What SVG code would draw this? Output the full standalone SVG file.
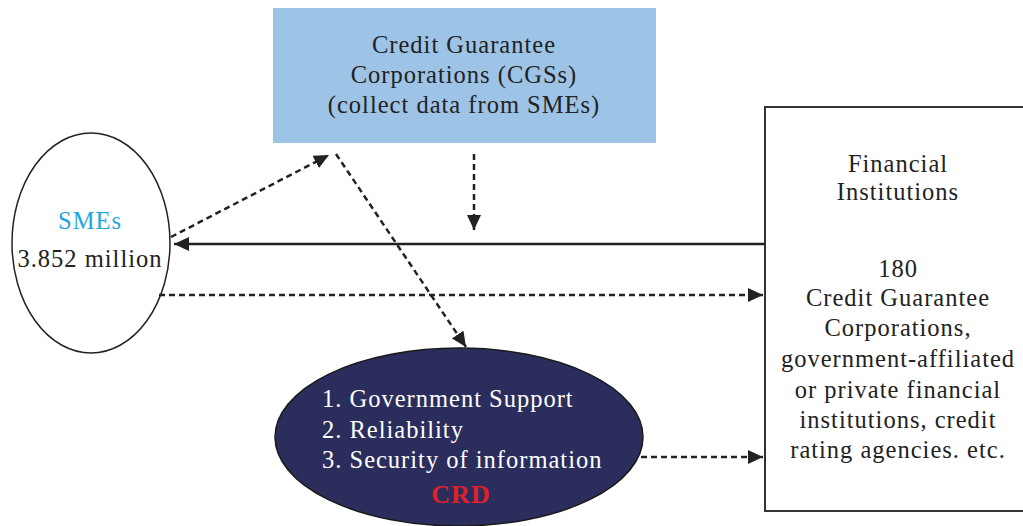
<svg xmlns="http://www.w3.org/2000/svg" width="1023" height="526" viewBox="0 0 1023 526">
  <style>
    .t { font-family: "Liberation Serif", "Times New Roman", serif; font-size: 24.5px; fill: #222; letter-spacing: 1px; }
    .c { text-anchor: middle; }
    .w { fill: #ffffff; }
    .dash { fill: none; stroke: #222; stroke-width: 2.5; stroke-dasharray: 6 4; }
    .solid { fill: none; stroke: #222; stroke-width: 2.5; }
  </style>
  <defs>
    <marker id="arrow" markerUnits="userSpaceOnUse" markerWidth="16" markerHeight="14" refX="15" refY="7" orient="auto">
      <path d="M0,0 L15,7 L0,14 z" fill="#222"/>
    </marker>
  </defs>
  <rect width="1023" height="526" fill="#ffffff"/>

  <g id="cgs">
    <rect x="273" y="8" width="383" height="135" fill="#9dc3e6"/>
    <text class="t c" x="464" y="53">Credit Guarantee</text>
    <text class="t c" x="464" y="83">Corporations (CGSs)</text>
    <text class="t c" x="464" y="113">(collect data from SMEs)</text>
  </g>

  <g id="smes">
    <ellipse cx="91" cy="243" rx="79" ry="110" fill="#ffffff" stroke="#222" stroke-width="1.5"/>
    <text class="t c" x="90" y="229" style="fill:#1ea7e1">SMEs</text>
    <text class="t c" x="90" y="267">3.852 million</text>
  </g>

  <g id="financial-institutions">
    <rect x="765" y="107" width="270" height="404" fill="#ffffff" stroke="#333" stroke-width="2"/>
    <text class="t c" x="898" y="172">Financial</text>
    <text class="t c" x="898" y="200">Institutions</text>
    <text class="t c" x="898" y="277">180</text>
    <text class="t c" x="898" y="306">Credit Guarantee</text>
    <text class="t c" x="898" y="336">Corporations,</text>
    <text class="t c" x="898" y="367">government-affiliated</text>
    <text class="t c" x="898" y="398">or private financial</text>
    <text class="t c" x="898" y="428">institutions, credit</text>
    <text class="t c" x="898" y="458">rating agencies. etc.</text>
  </g>

  <g id="crd">
    <ellipse cx="459" cy="437" rx="184" ry="89" fill="#2b2d5c" stroke="#1a1a1a" stroke-width="1.5"/>
    <text class="t w" x="322" y="407">1. Government Support</text>
    <text class="t w" x="322" y="438">2. Reliability</text>
    <text class="t w" x="322" y="468">3. Security of information</text>
    <text class="t c" x="461" y="503" style="fill:#e0202a;font-weight:bold;font-size:26px">CRD</text>
  </g>

  <g id="connectors">
    <line class="dash" x1="171" y1="237" x2="329" y2="155" marker-end="url(#arrow)"/>
    <line class="dash" x1="336" y1="154" x2="466" y2="347" marker-end="url(#arrow)"/>
    <line class="dash" x1="474" y1="154" x2="474" y2="230" marker-end="url(#arrow)"/>
    <line class="solid" x1="765" y1="244" x2="174" y2="244" marker-end="url(#arrow)"/>
    <line class="dash" x1="159" y1="295" x2="763" y2="295" marker-end="url(#arrow)"/>
    <line class="dash" x1="641" y1="457" x2="763" y2="457" marker-end="url(#arrow)"/>
  </g>
</svg>
